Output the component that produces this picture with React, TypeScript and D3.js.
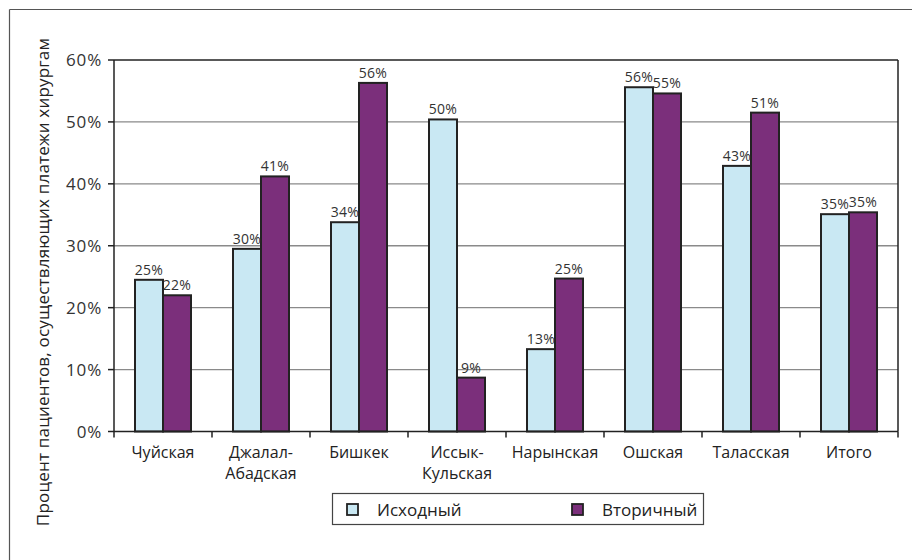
import React from "react";
import * as d3 from "d3";

const categories: string[][] = [
  ["Чуйская"],
  ["Джалал-", "Абадская"],
  ["Бишкек"],
  ["Иссык-", "Кульская"],
  ["Нарынская"],
  ["Ошская"],
  ["Таласская"],
  ["Итого"],
];
const seriesNames = ["Исходный", "Вторичный"];
const initialValues = [0.245, 0.295, 0.338, 0.504, 0.133, 0.556, 0.429, 0.351];
const secondaryValues = [0.22, 0.412, 0.563, 0.087, 0.247, 0.546, 0.515, 0.354];
const initialLabels = ["25%", "30%", "34%", "50%", "13%", "56%", "43%", "35%"];
const secondaryLabels = ["22%", "41%", "56%", "9%", "25%", "55%", "51%", "35%"];
const yTicks = [0, 0.1, 0.2, 0.3, 0.4, 0.5, 0.6];
const yTitle = "Процент пациентов, осуществляющих платежи хирургам";

const colors = ["#c9e8f3", "#7b2f7b"];
const FONT = "'Open Sans', 'Noto Sans', sans-serif";

export default function App() {
  const W = 912;
  const H = 560;
  const left = 114;
  const right = 898;
  const top = 60;
  const bottom = 431.5;

  const x = d3
    .scaleBand<number>()
    .domain(d3.range(categories.length))
    .range([left, right])
    .padding(0);
  const bw = x.bandwidth();
  const inner = d3
    .scaleBand<number>()
    .domain([0, 1])
    .range([bw / 2 - 28, bw / 2 + 28])
    .padding(0);
  const y = d3.scaleLinear().domain([0, 0.6]).range([bottom, top]);

  const series = [
    { values: initialValues, labels: initialLabels },
    { values: secondaryValues, labels: secondaryLabels },
  ];

  return (
    <svg
      width={W}
      height={H}
      style={{ position: "absolute", left: 0, top: 0, background: "#fff" }}
      fontFamily={FONT}
    >
      {/* outer frame edges */}
      <line x1={9.5} y1={9.5} x2={W} y2={9.5} stroke="#555" strokeWidth={1.2} />
      <line x1={9.5} y1={9.5} x2={9.5} y2={H} stroke="#555" strokeWidth={1.2} />

      {/* gridlines */}
      {yTicks.slice(1, -1).map((t) => (
        <line
          key={t}
          x1={left}
          x2={right}
          y1={y(t)}
          y2={y(t)}
          stroke="#8a8a8a"
          strokeWidth={1.3}
        />
      ))}
      {/* plot frame top/right */}
      <line x1={left} x2={right} y1={top} y2={top} stroke="#222" strokeWidth={1.5} />
      <line x1={right} x2={right} y1={top} y2={bottom} stroke="#222" strokeWidth={1.5} />

      {/* bars */}
      {series.map((s, si) =>
        s.values.map((v, i) => {
          const bx = (x(i) as number) + (inner(si) as number);
          return (
            <rect
              key={`${si}-${i}`}
              x={bx}
              y={y(v)}
              width={inner.bandwidth()}
              height={y(0) - y(v)}
              fill={colors[si]}
              stroke="#222"
              strokeWidth={2}
            />
          );
        })
      )}

      {/* value labels */}
      {series.map((s, si) =>
        s.values.map((v, i) => {
          const bx = (x(i) as number) + (inner(si) as number) + inner.bandwidth() / 2;
          return (
            <text
              key={`l${si}-${i}`}
              x={bx}
              y={y(v) - 5}
              textAnchor="middle"
              fontSize={14}
              letterSpacing={0.3}
              fill="#333"
            >
              {s.labels[i]}
            </text>
          );
        })
      )}

      {/* y axis */}
      <line x1={left} x2={left} y1={top} y2={bottom} stroke="#222" strokeWidth={1.5} />
      {yTicks.map((t) => (
        <g key={t}>
          <line x1={left - 6} x2={left} y1={y(t)} y2={y(t)} stroke="#222" strokeWidth={1.5} />
          <text
            x={102}
            y={y(t)}
            dy="0.36em"
            textAnchor="end"
            fontSize={17}
            letterSpacing={0.8}
            fill="#333"
          >
            {d3.format(".0%")(t)}
          </text>
        </g>
      ))}

      {/* x axis */}
      <line x1={left} x2={right} y1={bottom} y2={bottom} stroke="#222" strokeWidth={1.5} />
      {d3.range(categories.length + 1).map((i) => (
        <line
          key={i}
          x1={left + i * bw}
          x2={left + i * bw}
          y1={bottom}
          y2={bottom + 6}
          stroke="#222"
          strokeWidth={1.5}
        />
      ))}
      {categories.map((lines, i) => (
        <text
          key={i}
          x={(x(i) as number) + bw / 2}
          y={458}
          textAnchor="middle"
          fontSize={16}
          fill="#222"
        >
          {lines.map((ln, k) => (
            <tspan key={k} x={(x(i) as number) + bw / 2} dy={k === 0 ? 0 : 21}>
              {ln}
            </tspan>
          ))}
        </text>
      ))}

      {/* y axis title */}
      <text
        transform={`translate(49, 282) rotate(-90)`}
        textAnchor="middle"
        fontSize={17}
        letterSpacing={0.2}
        fill="#222"
      >
        {yTitle}
      </text>

      {/* legend */}
      <rect x={332.5} y={493.5} width={371} height={31} fill="#fff" stroke="#444" strokeWidth={1.2} />
      {seriesNames.map((name, si) => {
        const lx = si === 0 ? 347 : 572;
        return (
          <g key={name}>
            <rect
              x={lx}
              y={504}
              width={11}
              height={11}
              fill={colors[si]}
              stroke="#222"
              strokeWidth={1.8}
            />
            <text x={lx + 30} y={515.5} fontSize={17} fill="#222">
              {name}
            </text>
          </g>
        );
      })}
    </svg>
  );
}
